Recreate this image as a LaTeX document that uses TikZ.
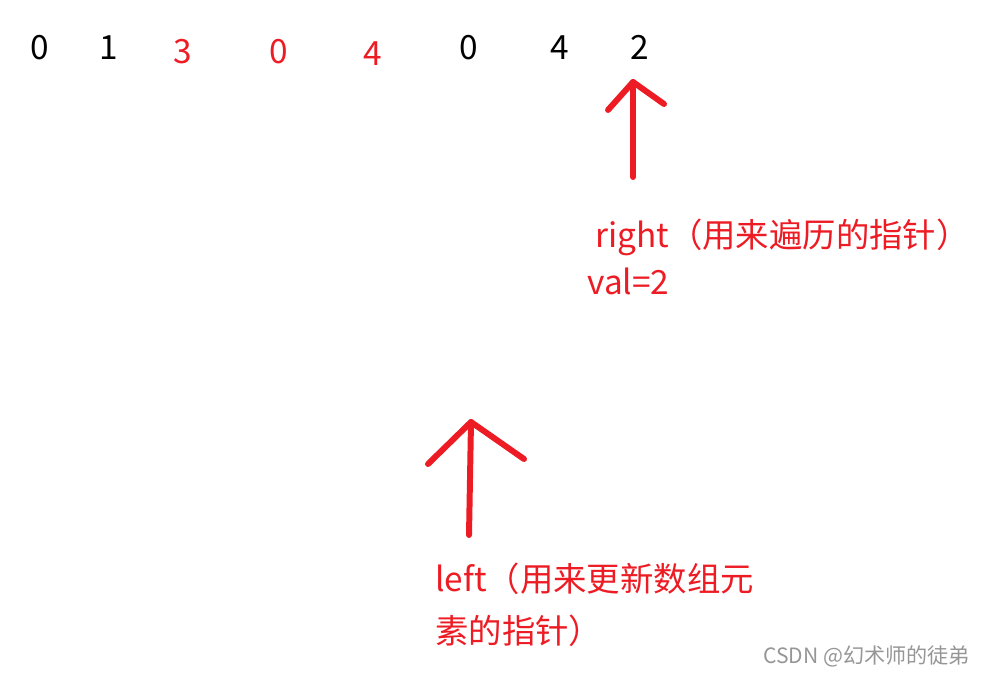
\documentclass[tikz,border=0pt]{standalone}
\usepackage{fontspec}
\setmainfont{Noto Sans CJK SC}
\definecolor{penred}{RGB}{237,28,36}
\definecolor{markgray}{RGB}{150,150,150}
\tikzset{
  num/.style={inner sep=0pt, anchor=base, font=\fontsize{19}{23}\selectfont},
  note/.style={inner sep=0pt, anchor=base west, text=penred, font=\fontsize{19}{23}\selectfont},
  pen/.style={penred, line width=3.4pt, line cap=round, line join=round}
}

\begin{document}
\begin{tikzpicture}[x=0.02cm, y=-0.02cm]
      \useasboundingbox (0,0) rectangle (986,676);

      % the array
      \node[num] (a0) at (40,59) {0};
      \node[num] (a1) at (109,59) {1};
      \node[num, text=penred] (a2) at (183,63) {3};
      \node[num, text=penred] (a3) at (279,63) {0};
      \node[num, text=penred] (a4) at (373,65) {4};
      \node[num] (a5) at (469,59) {0};
      \node[num] (a6) at (560,59) {4};
      \node[num] (a7) at (640,59) {2};

      % right pointer
      \coordinate (rtip) at (633,82);
      \coordinate (rtail) at (633,177);
      \coordinate (rl) at (608,110);
      \coordinate (rr) at (664,104);
      \draw[pen] (rtail) -- (rtip);
      \draw[pen] (rl) -- (rtip) -- (rr);
      \node[note] (rtext) at (595,247) {right（用来遍历的指针）};
      \node[note] (rval) at (587,294) {val=2};

      % left pointer
      \coordinate (ltip) at (471,422);
      \coordinate (ltail) at (469,535);
      \coordinate (ll) at (428,464);
      \coordinate (lr) at (524,459);
      \draw[pen] (ltail) -- (ltip);
      \draw[pen] (ll) -- (ltip) -- (lr);
      \node[note] (ltext) at (435,591) {left（用来更新数组元};
      \node[note] (ltext2) at (435,643) {素的指针）};

      \node[inner sep=0pt, anchor=base east, text=markgray, font=\fontsize{12}{14}\selectfont] (mark) at (970,663) {CSDN @幻术师的徒弟};
\end{tikzpicture}
\end{document}
